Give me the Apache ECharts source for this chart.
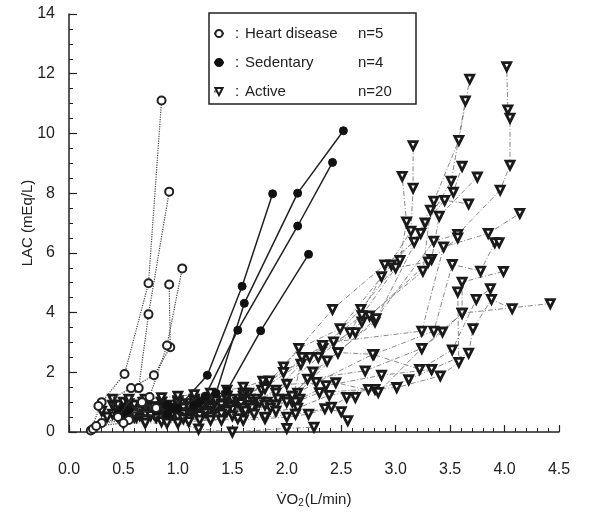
<!DOCTYPE html>
<html>
<head>
<meta charset="utf-8">
<script src="https://cdn.jsdelivr.net/npm/echarts@6/dist/echarts.min.js"></script>
<style>
html, body { margin: 0; padding: 0; background: #fff; }
#chart { width: 603px; height: 513px; }
</style>
</head>
<body>
<div id="chart"></div>
<script>
// groups shown in the legend
const groupNames = ['Heart disease', 'Sedentary', 'Active']
const groupCounts = [5, 4, 20]

// [VO2 (L/min), LAC (mEq/L)] per subject
const heartDisease = [
  [[0.2, 0.05], [0.3, 1.0], [0.51, 1.94], [0.73, 4.98], [0.85, 11.1]],
  [[0.22, 0.1], [0.45, 0.5], [0.64, 1.47], [0.73, 3.94], [0.92, 8.05]],
  [[0.27, 0.87], [0.57, 1.47], [0.78, 1.9], [0.93, 2.84], [0.92, 4.94]],
  [[0.3, 0.3], [0.55, 0.4], [0.74, 1.17], [0.9, 2.9], [1.04, 5.48]],
  [[0.25, 0.2], [0.5, 0.3], [0.67, 1.0], [0.8, 0.8]]
]

const sedentary = [
  [[0.45, 0.6], [0.8, 0.7], [1.0, 0.8], [1.27, 1.9], [1.59, 4.88], [1.87, 7.98]],
  [[0.5, 0.5], [0.9, 0.6], [1.15, 0.9], [1.35, 1.3], [1.61, 4.31], [2.1, 8.0], [2.52, 10.09]],
  [[0.55, 0.7], [0.95, 0.8], [1.25, 1.2], [1.55, 3.41], [2.1, 6.9], [2.42, 9.03]],
  [[0.5, 0.8], [0.9, 0.9], [1.2, 1.0], [1.45, 1.38], [1.76, 3.39], [2.2, 5.95]]
]

const active = [
  [[0.45, 0.9], [0.6, 0.85], [0.7, 0.8], [0.85, 0.85], [1.0, 0.9], [1.15, 0.95], [1.3, 1.0], [1.45, 1.1], [1.6, 1.2], [1.8, 1.6], [1.97, 2.18], [2.42, 4.11], [2.9, 5.6], [3.17, 6.36], [3.35, 7.73], [3.58, 9.77], [3.68, 11.82]],
  [[0.5, 0.7], [0.65, 0.75], [0.8, 0.7], [0.95, 0.75], [1.1, 0.8], [1.25, 0.85], [1.4, 0.9], [1.6, 1.1], [1.77, 1.4], [2.11, 2.8], [2.49, 3.46], [2.96, 5.6], [3.23, 6.65], [3.51, 8.4], [3.64, 11.09]],
  [[0.4, 0.6], [0.58, 0.65], [0.75, 0.6], [0.9, 0.65], [1.05, 0.7], [1.2, 0.75], [1.35, 0.8], [1.5, 0.85], [1.7, 1.0], [1.9, 1.4], [2.13, 2.27], [2.58, 3.33], [2.87, 5.2], [3.14, 6.73], [3.16, 8.17], [3.16, 9.59]],
  [[0.55, 0.8], [0.72, 0.85], [0.9, 0.9], [1.05, 0.95], [1.2, 1.0], [1.35, 1.05], [1.5, 1.1], [1.65, 1.3], [1.84, 1.71], [2.33, 2.8], [2.68, 4.11], [3.04, 5.75], [3.1, 7.04], [3.06, 8.56]],
  [[0.6, 0.9], [0.78, 0.85], [0.95, 0.8], [1.1, 0.85], [1.25, 0.9], [1.4, 0.95], [1.55, 1.0], [1.72, 1.1], [1.9, 1.3], [2.29, 2.5], [2.69, 3.69], [3.25, 5.39], [3.32, 7.43], [3.53, 8.03], [3.61, 8.9]],
  [[0.5, 1.0], [0.68, 1.0], [0.85, 1.0], [1.0, 1.05], [1.15, 1.1], [1.3, 1.15], [1.45, 1.2], [1.62, 1.3], [1.8, 1.5], [2.21, 2.5], [2.63, 3.33], [2.76, 3.89], [3.33, 5.78], [3.4, 7.23], [3.75, 8.54]],
  [[0.65, 0.7], [0.82, 0.7], [1.0, 0.7], [1.15, 0.75], [1.3, 0.8], [1.48, 0.85], [1.65, 0.9], [1.82, 1.0], [2.0, 1.1], [2.37, 2.38], [2.81, 3.69], [3.27, 7.0], [3.45, 7.76], [3.67, 7.64]],
  [[0.7, 0.8], [0.88, 0.8], [1.05, 0.8], [1.22, 0.85], [1.4, 0.9], [1.58, 0.95], [1.75, 1.0], [1.92, 1.1], [2.1, 1.3], [2.47, 2.66], [2.82, 3.8], [3.35, 6.39], [3.57, 6.62], [3.96, 8.1], [4.05, 8.94], [4.05, 10.51], [4.03, 10.79], [4.02, 12.24]],
  [[0.6, 0.6], [0.78, 0.6], [0.95, 0.6], [1.12, 0.65], [1.3, 0.7], [1.5, 0.75], [1.7, 0.8], [1.88, 0.9], [2.05, 1.0], [2.14, 2.5], [2.43, 3.02], [3.24, 3.38], [3.44, 6.2], [3.85, 6.65], [4.14, 7.32]],
  [[0.5, 0.5], [0.65, 0.55], [0.8, 0.6], [0.95, 0.6], [1.1, 0.6], [1.28, 0.65], [1.45, 0.7], [1.65, 0.8], [1.85, 0.9], [2.05, 1.2], [2.24, 2.01], [2.47, 2.66], [2.8, 2.6], [3.35, 3.38], [3.52, 5.61], [3.78, 5.39], [3.91, 6.34], [3.95, 6.34]],
  [[0.55, 0.6], [0.72, 0.6], [0.9, 0.6], [1.08, 0.65], [1.25, 0.7], [1.42, 0.75], [1.6, 0.8], [1.8, 0.9], [2.0, 1.0], [2.19, 1.77], [2.72, 2.05], [3.24, 2.8], [3.43, 3.35], [3.61, 3.98], [3.61, 5.02], [3.99, 5.38]],
  [[0.45, 0.5], [0.62, 0.5], [0.8, 0.5], [1.0, 0.55], [1.2, 0.6], [1.4, 0.65], [1.6, 0.7], [1.85, 0.9], [2.05, 1.2], [2.27, 1.66], [2.79, 2.6], [3.22, 2.1], [3.52, 2.75], [3.74, 4.44], [3.87, 4.8]],
  [[0.7, 0.6], [0.88, 0.6], [1.05, 0.6], [1.25, 0.65], [1.45, 0.7], [1.68, 0.8], [1.9, 0.9], [2.12, 1.1], [2.36, 1.55], [2.87, 1.9], [3.33, 2.1], [3.67, 2.64], [3.71, 3.46], [3.88, 4.44], [4.07, 4.13]],
  [[0.6, 0.5], [0.8, 0.5], [1.0, 0.5], [1.2, 0.55], [1.4, 0.6], [1.62, 0.7], [1.85, 0.8], [2.08, 1.0], [2.3, 1.32], [2.75, 1.43], [3.01, 1.49], [3.41, 1.88], [3.58, 2.33], [3.57, 4.69]],
  [[0.5, 0.4], [0.7, 0.4], [0.9, 0.4], [1.1, 0.45], [1.3, 0.5], [1.5, 0.55], [1.7, 0.6], [1.9, 0.7], [2.1, 0.8], [2.39, 1.23], [2.81, 1.43], [3.12, 1.75], [3.33, 2.1]],
  [[0.4, 0.9], [0.55, 0.95], [0.7, 1.0], [0.85, 1.0], [1.0, 1.0], [1.15, 1.05], [1.3, 1.1], [1.45, 1.2], [1.6, 1.3], [1.8, 1.45], [2.0, 1.6], [2.45, 1.65], [2.84, 1.33], [3.24, 2.8], [3.61, 3.98], [4.42, 4.3]],
  [[0.3, 0.7], [0.45, 0.65], [0.6, 0.6], [0.75, 0.55], [0.9, 0.5], [1.05, 0.45], [1.2, 0.4], [1.4, 0.4], [1.6, 0.4], [1.8, 0.45], [2.0, 0.5], [2.2, 0.6], [2.41, 0.83], [2.55, 1.16], [2.63, 1.16]],
  [[0.35, 0.5], [0.52, 0.45], [0.7, 0.4], [0.85, 0.35], [1.0, 0.3], [1.19, 0.1], [1.5, 0.0], [2.0, 0.12], [2.25, 0.16]],
  [[0.5, 0.3], [0.7, 0.3], [0.9, 0.3], [1.1, 0.35], [1.3, 0.4], [1.55, 0.45], [1.8, 0.5], [2.08, 0.6], [2.35, 0.78], [2.5, 0.68], [2.56, 0.38]],
  [[0.4, 1.1], [0.55, 1.1], [0.7, 1.1], [0.85, 1.15], [1.0, 1.2], [1.15, 1.25], [1.3, 1.3], [1.45, 1.4], [1.6, 1.5], [1.78, 1.7], [1.97, 2.0], [2.33, 2.9], [2.69, 3.9], [3.0, 5.5], [3.3, 5.7], [3.57, 6.5]]
]

const ink = '#222'
const font = 'Liberation Sans, Arial, sans-serif'

const chart = echarts.init(document.getElementById('chart'))

const series = []

active.forEach((pts) => {
  series.push({
    name: 'Active',
    type: 'line',
    data: pts,
    symbol: 'triangle',
    symbolRotate: 180,
    symbolSize: 8,
    itemStyle: { color: '#fff', borderColor: '#1a1a1a', borderWidth: 2.8 },
    lineStyle: { color: '#7a7a7a', width: 0.9, type: [5, 2, 1, 2] },
    z: 2
  })
})

sedentary.forEach((pts) => {
  series.push({
    name: 'Sedentary',
    type: 'line',
    data: pts,
    symbol: 'circle',
    symbolSize: 8,
    itemStyle: { color: '#111', borderColor: '#111', borderWidth: 1 },
    lineStyle: { color: ink, width: 1.5 },
    z: 3
  })
})

heartDisease.forEach((pts) => {
  series.push({
    name: 'Heart disease',
    type: 'line',
    data: pts,
    symbol: 'circle',
    symbolSize: 8,
    itemStyle: { color: '#fff', borderColor: ink, borderWidth: 2 },
    lineStyle: { color: '#444', width: 1.2, type: 'dotted' },
    z: 4
  })
})

const richBase = { fontSize: 15, fontFamily: font, color: ink, lineHeight: 16, align: 'left' }

const option = {
  animation: false,
  backgroundColor: '#fff',
  textStyle: { fontFamily: font },
  grid: { left: 69, right: 44, top: 14, bottom: 80 },
  legend: {
    data: groupNames,
    orient: 'vertical',
    left: 209,
    top: 13,
    padding: [13, 16, 5, 4],
    itemGap: 14,
    itemWidth: 10,
    itemHeight: 9,
    backgroundColor: '#fff',
    borderColor: ink,
    borderWidth: 1.5,
    borderRadius: 0,
    formatter: (name) => {
      const n = groupCounts[groupNames.indexOf(name)]
      return `{c|:}{a|${name}}{b|n=${n}}`
    },
    textStyle: {
      color: ink,
      fontSize: 15,
      fontFamily: font,
      rich: {
        c: Object.assign({}, richBase, { width: 10, padding: [0, 0, 0, 6] }),
        a: Object.assign({}, richBase, { width: 113 }),
        b: Object.assign({}, richBase, { width: 42 })
      }
    }
  },
  xAxis: {
    type: 'value',
    min: 0,
    max: 4.5,
    interval: 0.5,
    offset: 22,
    name: '{a|V̇O}{s|2}{a|(L/min)}',
    nameLocation: 'middle',
    nameGap: 38,
    nameTextStyle: {
      rich: {
        a: { fontSize: 15, color: ink, fontFamily: font },
        s: { fontSize: 10, color: ink, fontFamily: font, padding: [6, 1, 0, 0] }
      }
    },
    axisLine: { lineStyle: { color: ink, width: 1.5 } },
    axisTick: { inside: true, length: 7, lineStyle: { color: ink, width: 1.2 } },
    minorTick: { show: true, splitNumber: 5, length: 4, lineStyle: { color: ink, width: 1 } },
    axisLabel: {
      color: ink,
      fontSize: 16,
      margin: 8,
      formatter: (v) => v.toFixed(1)
    },
    splitLine: { show: false }
  },
  yAxis: {
    type: 'value',
    min: 0,
    max: 14,
    interval: 2,
    name: 'LAC (mEq/L)',
    nameLocation: 'middle',
    nameGap: 34,
    nameMoveOverlap: false,
    nameTextStyle: { color: ink, fontSize: 15, fontFamily: font },
    axisLine: { show: true, lineStyle: { color: ink, width: 1.5 } },
    axisTick: { show: true, inside: true, length: 8, lineStyle: { color: ink, width: 1.2 } },
    minorTick: { show: true, splitNumber: 4, length: 4, lineStyle: { color: ink, width: 1 } },
    axisLabel: { color: ink, fontSize: 16, margin: 14 },
    splitLine: { show: false }
  },
  series: series
}

chart.setOption(option)
</script>
</body>
</html>
